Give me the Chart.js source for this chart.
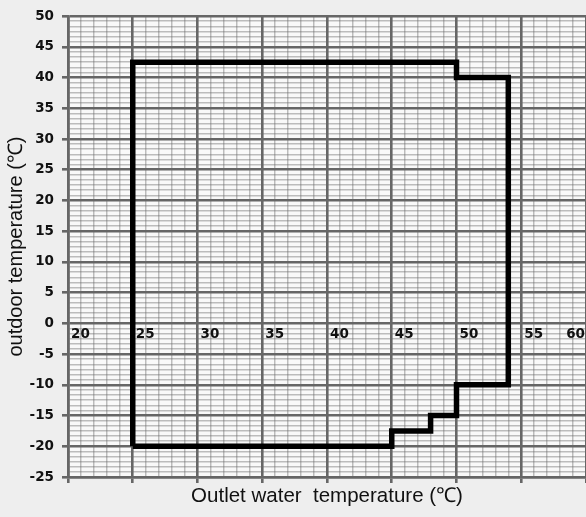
<!DOCTYPE html>
<html>
<head>
<meta charset="utf-8">
<script src="https://cdn.jsdelivr.net/npm/chart.js@4.4.1/dist/chart.umd.min.js"></script>
<style>
  html, body { margin: 0; padding: 0; background: #eeeeee; }
  #wrap { width: 586px; height: 517px; position: relative; }
</style>
</head>
<body>
<div id="wrap"><canvas id="envChart"></canvas></div>
<script>
// Operating envelope: outlet water temperature (x) vs outdoor temperature (y)
const envelopeX = [25, 25, 50, 50, 54, 54, 50, 50, 48, 48, 45, 45, 25];
const envelopeY = [-20, 42.5, 42.5, 40, 40, -10, -10, -15, -15, -17.5, -17.5, -20, -20];

// Axis ranges and labelled ticks
const xMin = 20, xMax = 60;
const yMin = -25, yMax = 50;
const xTickLabels = [20, 25, 30, 35, 40, 45, 50, 55, 60];
const yTickLabels = [-25, -20, -15, -10, -5, 0, 5, 10, 15, 20, 25, 30, 35, 40, 45, 50];

const MAJOR = '#666666';
// translucent so light lines don't wash out the dark ones they cross
const MINOR = 'rgba(105,105,105,0.42)';
const LABEL_FONT = 'bold 13.5px "DejaVu Sans"';

// y grid: each 5 degree band split into 6 light lines
const yGridValues = [];
yTickLabels.forEach((v, i) => {
    yGridValues.push(v);
    if (i < yTickLabels.length - 1) {
        for (let k = 1; k < 6; k++) yGridValues.push(v + k * 5 / 6);
    }
});

const isMajor = v => Math.abs(v / 5 - Math.round(v / 5)) < 1e-6;

// plot area background
const plotBackground = {
    id: 'plotBackground',
    beforeDraw(chart) {
        const { ctx, chartArea: a } = chart;
        ctx.save();
        ctx.fillStyle = '#f9f9f9';
        ctx.fillRect(a.left, a.top, a.right - a.left, a.bottom - a.top);
        ctx.restore();
    }
};

// x values are printed inside the plot, just under the 0 line
const innerXLabels = {
    id: 'innerXLabels',
    afterDatasetsDraw(chart) {
        const { ctx, chartArea: a, scales } = chart;
        const base = scales.y.getPixelForValue(0) + 15;
        ctx.save();
        ctx.font = LABEL_FONT;
        ctx.fillStyle = '#111';
        ctx.textBaseline = 'alphabetic';
        ctx.textAlign = 'left';
        xTickLabels.forEach(v => {
            const txt = String(v);
            const w = ctx.measureText(txt).width;
            let x = scales.x.getPixelForValue(v) + 3;
            if (x + w > a.right - 1) x = a.right - 1 - w;
            ctx.fillText(txt, x, base);
        });
        ctx.restore();
    }
};

const points = envelopeX.map((x, i) => ({ x: x, y: envelopeY[i] }));

const gridStyle = {
    color: c => isMajor(c.tick.value) ? MAJOR : MINOR,
    lineWidth: c => isMajor(c.tick.value) ? 2.6 : 1.5,
    tickColor: c => isMajor(c.tick.value) ? MAJOR : 'rgba(0,0,0,0)',
    tickLength: 6,
    tickWidth: 2.6
};

new Chart(document.getElementById('envChart'), {
    type: 'scatter',
    data: {
        datasets: [{
            data: points,
            showLine: true,
            borderColor: '#000',
            borderWidth: 5.5,
            borderJoinStyle: 'miter',
            pointRadius: 0,
            tension: 0,
            fill: false
        }]
    },
    options: {
        responsive: true,
        maintainAspectRatio: false,
        animation: false,
        layout: { padding: { top: 15, right: 0, left: 0, bottom: 0 } },
        plugins: {
            legend: { display: false },
            tooltip: { enabled: false }
        },
        scales: {
            x: {
                type: 'linear',
                min: xMin,
                max: xMax,
                ticks: { stepSize: 1, display: false, autoSkip: false },
                grid: gridStyle,
                border: { color: MAJOR, width: 2.6 },
                title: {
                    display: true,
                    text: 'Outlet water  temperature (℃)',
                    color: '#111',
                    font: { family: '"Liberation Sans", Arial, sans-serif', size: 20.5 },
                    padding: { top: 0, bottom: 8 }
                },
                afterFit(scale) { scale.height = 40; }
            },
            y: {
                type: 'linear',
                min: yMin,
                max: yMax,
                afterBuildTicks(scale) {
                    scale.ticks = yGridValues.map(v => ({ value: v }));
                },
                ticks: {
                    autoSkip: false,
                    padding: 8,
                    color: '#111',
                    font: { family: '"DejaVu Sans"', size: 13.5, weight: 'bold' },
                    callback: v => isMajor(v) ? String(Math.round(v)) : ''
                },
                grid: gridStyle,
                border: { color: MAJOR, width: 2.6 },
                title: {
                    display: true,
                    text: 'outdoor temperature (℃)',
                    color: '#111',
                    font: { family: '"Liberation Sans", Arial, sans-serif', size: 20 },
                    padding: { top: 4, bottom: 0 }
                },
                afterFit(scale) { scale.width = 68; }
            }
        }
    },
    plugins: [plotBackground, innerXLabels]
});
</script>
</body>
</html>
